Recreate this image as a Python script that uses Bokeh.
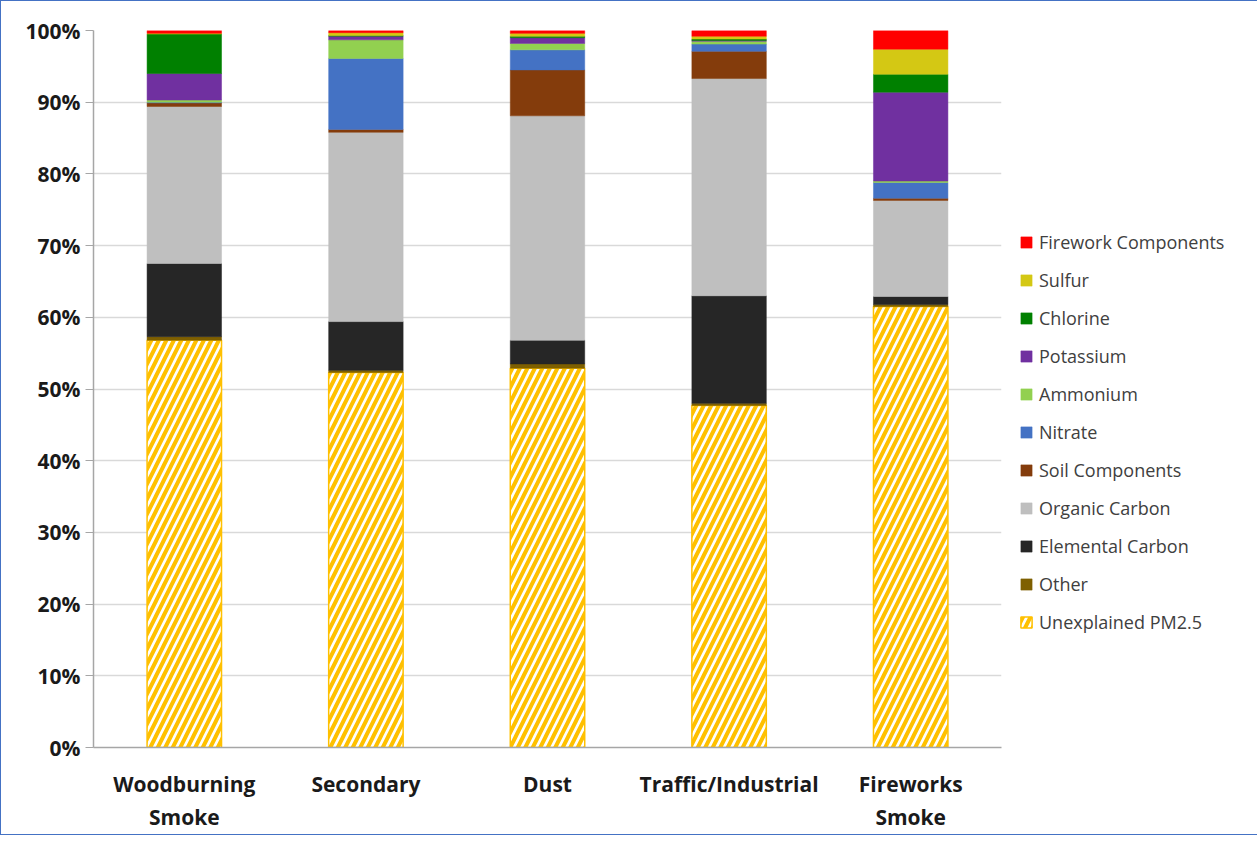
from bokeh.plotting import figure
from bokeh.models import (ColumnDataSource, FactorRange, Range1d, Legend, LegendItem,
                          SingleIntervalTicker, PrintfTickFormatter)
from bokeh.transform import stack
from bokeh.embed import file_html
from bokeh.resources import INLINE

categories = ["Woodburning\nSmoke", "Secondary", "Dust", "Traffic/Industrial", "Fireworks\nSmoke"]

# percent of PM2.5, bottom to top
unexplained = [56.8, 52.3, 52.9, 47.7, 61.5]
other       = [0.5, 0.3, 0.6, 0.3, 0.3]
elemental_c = [10.2, 6.8, 3.3, 15.0, 1.1]
organic_c   = [21.9, 26.4, 31.3, 30.3, 13.4]
soil        = [0.5, 0.4, 6.4, 3.8, 0.3]
nitrate     = [0.1, 9.9, 2.8, 1.0, 2.2]
ammonium    = [0.3, 2.6, 0.9, 0.4, 0.2]
potassium   = [3.7, 0.5, 0.8, 0.1, 12.4]
chlorine    = [5.5, 0.1, 0.2, 0.2, 2.5]
sulfur      = [0.1, 0.4, 0.4, 0.4, 3.5]
firework    = [0.4, 0.3, 0.4, 0.8, 2.6]

series_names = ["Unexplained PM2.5", "Other", "Elemental Carbon", "Organic Carbon",
                "Soil Components", "Nitrate", "Ammonium", "Potassium", "Chlorine",
                "Sulfur", "Firework Components"]
series_vals = [unexplained, other, elemental_c, organic_c, soil, nitrate, ammonium,
               potassium, chlorine, sulfur, firework]
colors = ["#FFC000", "#7F6000", "#262626", "#BFBFBF", "#843C0C", "#4472C4", "#92D050",
          "#7030A0", "#008000", "#D4C814", "#FF0000"]

keys = ["s%d" % i for i in range(len(series_names))]
data = {"cat": categories}
for k, v in zip(keys, series_vals):
    data[k] = v
source = ColumnDataSource(data)

p = figure(frame_width=908, frame_height=717, output_backend="svg", toolbar_location=None,
           x_range=FactorRange(*categories), y_range=Range1d(0, 100),
           min_border_left=92, min_border_right=0, min_border_top=29, min_border_bottom=85)
p.styles = {"border": "1px solid #4472C4", "box-sizing": "border-box"}
p.outline_line_color = None
p.background_fill_color = "white"
p.border_fill_color = "white"

renderers = []
for i, (k, c) in enumerate(zip(keys, colors)):
    below = keys[:i]
    kw = dict(x="cat", width=0.41, source=source,
              bottom=stack(*below) if below else 0, top=stack(*keys[:i + 1]))
    if i == 0:
        r = p.vbar(fill_color="white", line_color=c, line_width=1.5,
                   hatch_pattern="/", hatch_color=c, hatch_scale=15, hatch_weight=4, **kw)
    else:
        r = p.vbar(fill_color=c, line_color=c, line_width=0.5, **kw)
    renderers.append(r)

items = [LegendItem(label=n, renderers=[r]) for n, r in zip(series_names, renderers)][::-1]
legend = Legend(items=items, location="top_left", orientation="vertical",
                title=" ", title_text_font_size="10px", title_standoff=170,
                label_text_font="Open Sans", label_text_font_size="18px",
                label_text_color="#404040", glyph_width=14, glyph_height=14,
                label_height=25, spacing=13, padding=0, margin=18,
                border_line_color=None, background_fill_alpha=0, label_standoff=6)
p.add_layout(legend, "right")

p.yaxis.ticker = SingleIntervalTicker(interval=10)
p.yaxis.formatter = PrintfTickFormatter(format="%d%%")
p.ygrid.grid_line_color = "#D9D9D9"
p.ygrid.grid_line_width = 1.5
p.xgrid.grid_line_color = None

for ax in (p.xaxis, p.yaxis):
    ax.major_label_text_font = "Open Sans"
    ax.major_label_text_font_size = "21px"
    ax.major_label_text_font_style = "bold"
    ax.major_label_text_color = "#1a1a1a"
    ax.axis_line_color = "#A6A6A6"
    ax.axis_line_width = 1.5
    ax.major_tick_line_color = "#A6A6A6"
    ax.minor_tick_line_color = None

p.yaxis.major_tick_out = 8
p.yaxis.major_tick_in = 0
p.yaxis.major_label_standoff = 5
p.xaxis.major_tick_line_color = None
p.xaxis.major_label_standoff = 16

open("out.html", "w").write(file_html(p, INLINE))
